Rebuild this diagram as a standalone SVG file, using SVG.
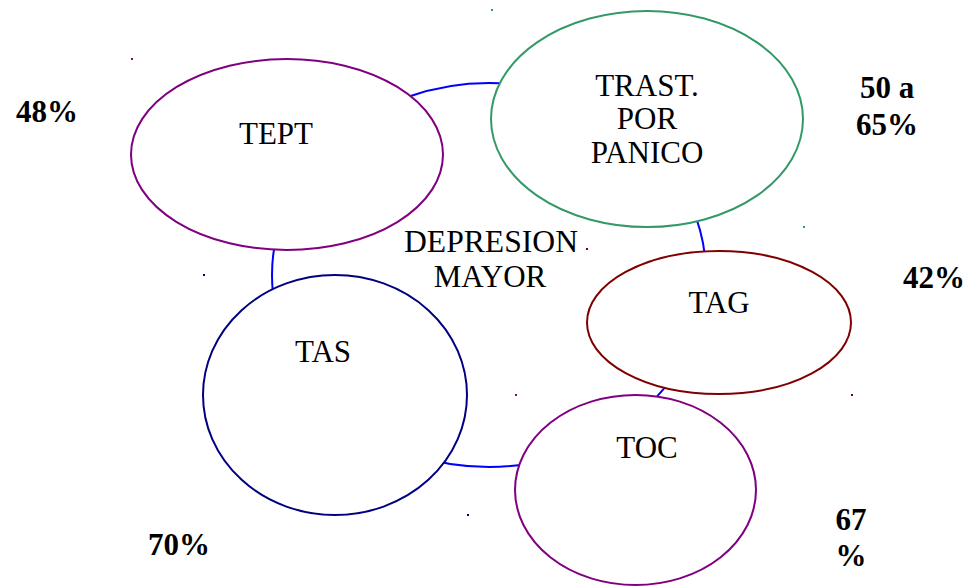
<svg xmlns="http://www.w3.org/2000/svg" width="971" height="586" viewBox="0 0 971 586">
<style>
.n{fill:#fff;stroke-width:2}
.t{font-family:"Liberation Serif","Times New Roman",serif;font-size:31px;fill:#000;text-anchor:middle}
.b{font-family:"Liberation Serif","Times New Roman",serif;font-size:31px;font-weight:bold;fill:#000;text-anchor:middle}
</style>
<rect width="971" height="586" fill="#fff"/>
<g id="connectors">
<ellipse cx="489" cy="275" rx="217" ry="192" fill="none" stroke="#0000ff" stroke-width="2"/>
</g>
<g id="depresion">
<text class="t" x="491" y="252" textLength="174" lengthAdjust="spacingAndGlyphs">DEPRESION</text>
<text class="t" x="490" y="287">MAYOR</text>
</g>
<g id="tept">
<ellipse class="n" cx="287" cy="154.5" rx="156" ry="95.5" stroke="#800080"/>
<text class="t" x="276" y="144">TEPT</text>
<rect x="131" y="58" width="2" height="2" fill="#800080"/>
<rect x="442" y="249" width="2" height="2" fill="#800080"/>
<text class="b" x="47" y="122">48%</text>
</g>
<g id="panico">
<ellipse class="n" cx="647" cy="119" rx="156" ry="108" stroke="#339966"/>
<text class="t" x="647" y="96">TRAST.</text>
<text class="t" x="647" y="129">POR</text>
<text class="t" x="647" y="163">PANICO</text>
<rect x="491" y="9" width="2" height="2" fill="#339966"/>
<rect x="803" y="226" width="2" height="2" fill="#339966"/>
<text class="b" x="887" y="98">50 a</text>
<text class="b" x="887" y="135">65%</text>
</g>
<g id="tag">
<ellipse class="n" cx="719" cy="322.5" rx="132" ry="71.5" stroke="#800000"/>
<text class="t" x="719" y="313">TAG</text>
<rect x="586" y="248" width="2" height="2" fill="#800000"/>
<rect x="851" y="394" width="2" height="2" fill="#800000"/>
<text class="b" x="934" y="288">42%</text>
</g>
<g id="tas">
<ellipse class="n" cx="335" cy="395" rx="132" ry="120" stroke="#000080"/>
<text class="t" x="323" y="362">TAS</text>
<rect x="203" y="274" width="2" height="2" fill="#000080"/>
<rect x="467" y="514" width="2" height="2" fill="#000080"/>
<text class="b" x="179" y="555">70%</text>
</g>
<g id="toc">
<ellipse class="n" cx="635.5" cy="490" rx="120.5" ry="95" stroke="#800080"/>
<text class="t" x="647" y="458">TOC</text>
<rect x="515" y="394" width="2" height="2" fill="#800080"/>
<text class="b" x="851" y="530">67</text>
<text class="b" x="851" y="566">%</text>
</g>
</svg>
